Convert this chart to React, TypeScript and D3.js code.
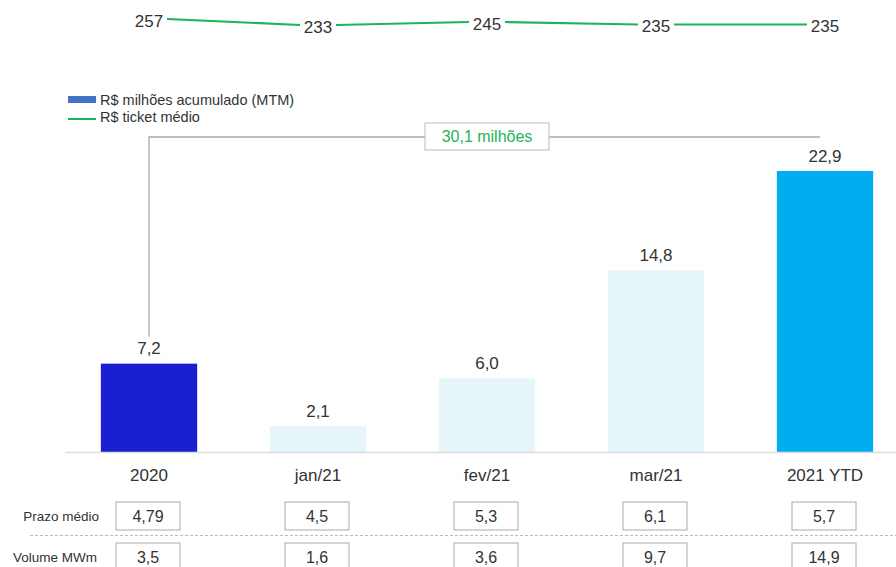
import React from "react";
import * as d3 from "d3";

const categories = ["2020", "jan/21", "fev/21", "mar/21", "2021 YTD"];
const mtmValues = [7.2, 2.1, 6.0, 14.8, 22.9];
const ticketValues = [257, 233, 245, 235, 235];
const prazoMedio = ["4,79", "4,5", "5,3", "6,1", "5,7"];
const volumeMWm = ["3,5", "1,6", "3,6", "9,7", "14,9"];
const barColors = ["#1a1fcf", "#e6f5f9", "#e6f5f9", "#e6f5f9", "#00aeef"];
const totalLabel = "30,1 milhões";
const legendLabels = ["R$ milhões acumulado (MTM)", "R$ ticket médio"];
const rowLabels = ["Prazo médio", "Volume MWm"];

const W = 896;
const H = 567;
const FONT = "'Liberation Sans', Arial, Helvetica, sans-serif";
const GREEN = "#1fb457";
const TEXT = "#333";

export default function App() {
  const x = d3.scaleBand().domain(categories).range([64.5, 909.5]).paddingInner(0.43).paddingOuter(0.215);
  const y = d3.scaleLinear().domain([0, 22.9]).range([452, 171]);
  const yl = d3.scaleLinear().domain([233, 257]).range([25, 19]);
  const cx = (c: string) => (x(c) as number) + x.bandwidth() / 2;
  const fmt = (v: number) => v.toFixed(1).replace(".", ",");

  const gap = 18;
  const lineSegs = ticketValues.slice(0, -1).map((v, i) => ({
    x1: cx(categories[i]) + gap,
    y1: yl(v),
    x2: cx(categories[i + 1]) - gap,
    y2: yl(ticketValues[i + 1]),
  }));

  const bx1 = cx(categories[0]);
  const bx2 = cx(categories[4]) - 5;
  const bracketY = 137;
  const boxCx = cx(categories[2]);

  return (
    <svg width={W} height={H} style={{ position: "absolute", left: 0, top: 0 }} fontFamily={FONT}>
      <rect width={W} height={H} fill="#fff" />
      {/* ticket line */}
      {lineSegs.map((s, i) => (
        <line key={i} x1={s.x1} y1={s.y1} x2={s.x2} y2={s.y2} stroke={GREEN} strokeWidth={2.2} />
      ))}
      {ticketValues.map((v, i) => (
        <text key={i} x={cx(categories[i])} y={yl(v) + 7.5} textAnchor="middle" fontSize={17} fill={TEXT}>
          {v}
        </text>
      ))}
      {/* legend */}
      <rect x={68} y={96} width={28} height={7} fill="#4472c4" />
      <text x={100} y={105} fontSize={14.5} fill={TEXT}>{legendLabels[0]}</text>
      <line x1={68} x2={96} y1={119} y2={119} stroke={GREEN} strokeWidth={2} />
      <text x={100} y={122} fontSize={14.5} fill={TEXT}>{legendLabels[1]}</text>
      {/* bracket */}
      <path d={`M${bx1},${y(mtmValues[0]) - 27}V${bracketY}H${bx2}`} fill="none" stroke="#aaa" strokeWidth={1.3} />
      <rect x={boxCx - 62} y={123} width={124} height={27} fill="#fff" stroke="#bbb" strokeWidth={1} />
      <text x={boxCx} y={142} textAnchor="middle" fontSize={16} fill={GREEN}>{totalLabel}</text>
      {/* bars */}
      {mtmValues.map((v, i) => (
        <g key={i}>
          <rect x={x(categories[i])} y={y(v)} width={x.bandwidth()} height={y(0) - y(v)} fill={barColors[i]} />
          <text x={cx(categories[i])} y={y(v) - 9.5} textAnchor="middle" fontSize={17} fill={TEXT}>{fmt(v)}</text>
          <text x={cx(categories[i])} y={481} textAnchor="middle" fontSize={17} fill={TEXT}>{categories[i]}</text>
        </g>
      ))}
      <line x1={65} x2={W} y1={452.5} y2={452.5} stroke="#ddd" strokeWidth={1.5} />
      {/* table */}
      <text x={99} y={521} textAnchor="end" fontSize={13.5} fill={TEXT}>{rowLabels[0]}</text>
      <text x={97} y={562} textAnchor="end" fontSize={13.5} fill={TEXT}>{rowLabels[1]}</text>
      <line x1={30} x2={W} y1={535.5} y2={535.5} stroke="#bbb" strokeWidth={1} strokeDasharray="3,2" />
      {categories.map((c, i) => (
        <g key={c}>
          <rect x={cx(c) - 33} y={502} width={64} height={28} fill="#fff" stroke="#aaa" strokeWidth={1} />
          <text x={cx(c) - 1} y={522} textAnchor="middle" fontSize={16} fill={TEXT}>{prazoMedio[i]}</text>
          <rect x={cx(c) - 33} y={543} width={64} height={30} fill="#fff" stroke="#aaa" strokeWidth={1} />
          <text x={cx(c) - 1} y={563} textAnchor="middle" fontSize={16} fill={TEXT}>{volumeMWm[i]}</text>
        </g>
      ))}
    </svg>
  );
}
